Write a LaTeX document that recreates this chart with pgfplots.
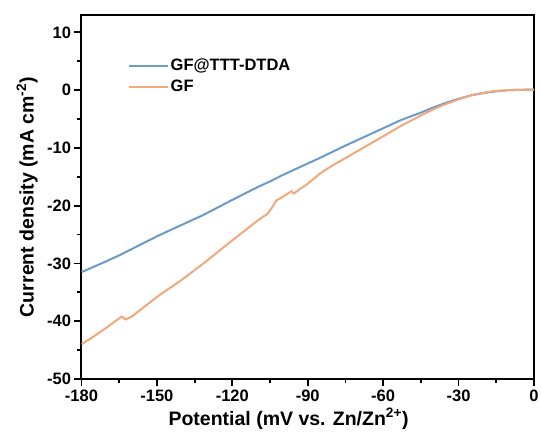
\documentclass[border=0pt]{standalone}
\usepackage{pgfplots}
\pgfplotsset{compat=1.18}
\usepackage{fontspec}
\setmainfont{Liberation Sans}
\definecolor{cblue}{RGB}{106,155,201}
\definecolor{corange}{RGB}{241,168,122}
\begin{document}
\begin{tikzpicture}
\begin{axis}[
  scale only axis,
  width=452.5bp, height=364bp,
  xmin=-180, xmax=0, ymin=-50, ymax=13,
  xtick={-180,-150,...,0}, ytick={-50,-40,...,10},
  minor xtick={-165,-135,...,-15}, minor ytick={-45,-35,...,5},
  tick align=outside,
  major tick length=7bp, minor tick length=4bp,
  xtick pos=bottom, ytick pos=left,
  axis line style={line width=2bp},
  every tick/.style={line width=1.8bp, black},
  /pgf/number format/assume math mode=true,
  ticklabel style={font=\fontsize{16.5bp}{18bp}\selectfont\bfseries},
  xlabel={Potential (mV vs. Zn/Zn\textsuperscript{2+})},
  ylabel={Current density (mA cm\textsuperscript{-2})},
  label style={font=\fontsize{19.5bp}{22bp}\selectfont\bfseries},
  xlabel style={at={(axis description cs:0.4575,-0.1264)}, anchor=base},
  ylabel style={at={(axis description cs:-0.106,0.5)}, anchor=base},
  legend style={draw=none, fill=none, at={(axis description cs:0.095,0.832)}, anchor=west,
    font=\fontsize{16.5bp}{18bp}\selectfont\bfseries, row sep=4bp,
    /tikz/every even column/.append style={column sep=3bp}},
  legend cell align=left,
  legend image code/.code={\draw[#1] (0bp,0bp) -- (39bp,0bp);},
]
\addplot[cblue, line width=2bp] coordinates {
(-180,-31.5) (-170,-29.6) (-165,-28.6) (-150,-25.3) (-140,-23.3) (-131.5,-21.6)
(-120,-19.0) (-110,-16.8) (-105,-15.8) (-100,-14.7) (-93,-13.3) (-85,-11.7)
(-75,-9.6) (-69,-8.4) (-60,-6.6) (-53,-5.2) (-45,-3.9) (-40,-3.0) (-35,-2.2)
(-30,-1.5) (-25,-0.9) (-20,-0.5) (-15,-0.2) (-10,0) (-5,0.05) (0,0.1)
};
\addlegendentry{GF@TTT-DTDA}
\addplot[corange, line width=2bp] coordinates {
(-180,-44.0) (-175,-42.6) (-170,-41.1) (-165,-39.5) (-164,-39.2) (-162.5,-39.7)
(-160,-39.2) (-150,-35.8) (-140,-32.8) (-131.5,-30.0) (-120,-26.0) (-110,-22.6)
(-106,-21.4) (-104,-20.2) (-102.5,-19.1) (-100,-18.5) (-96.5,-17.5) (-95.5,-17.9)
(-93,-17.1) (-90,-16.2) (-85,-14.4) (-80,-13.0) (-70,-10.5) (-60,-8.0) (-53,-6.2)
(-45,-4.4) (-40,-3.3) (-35,-2.4) (-30,-1.6) (-25,-0.9) (-20,-0.45) (-15,-0.15)
(-10,0) (-5,0.05) (0,0.1)
};
\addlegendentry{GF}
\end{axis}
\pgfresetboundingbox
\path (current axis.south west) ++(-81.5bp,-60bp) rectangle ++(541bp,439bp);
\end{tikzpicture}
\end{document}
